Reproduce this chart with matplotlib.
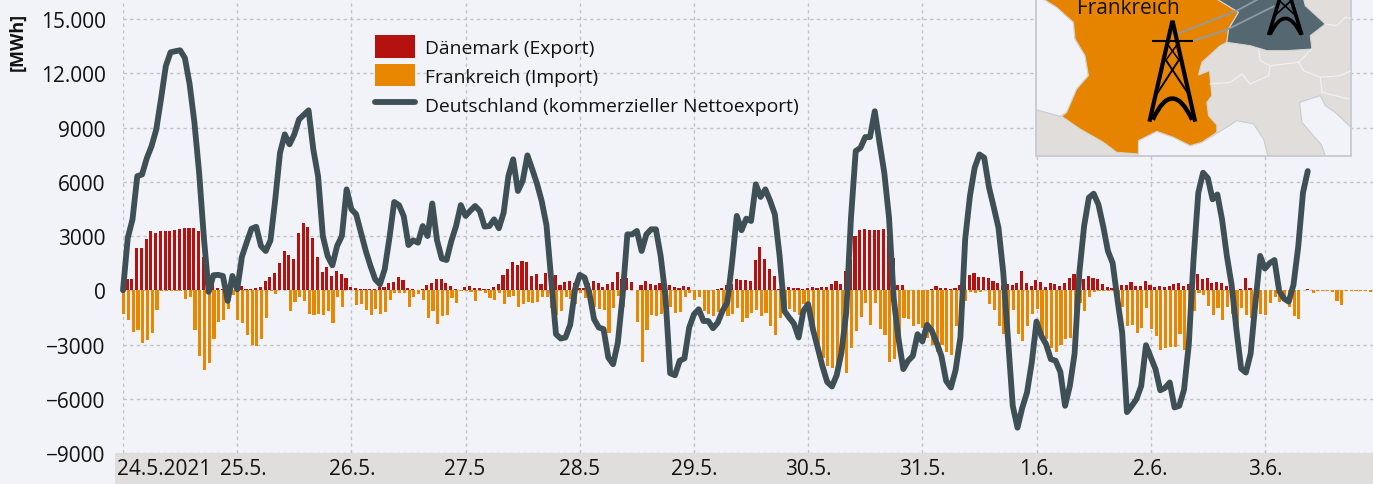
import numpy as np
import matplotlib
matplotlib.use("Agg")
import matplotlib.pyplot as plt
from matplotlib.patches import Polygon, Rectangle, PathPatch
from matplotlib.path import Path

plt.rcParams['font.family'] = ['Open Sans', 'DejaVu Sans']

W, H = 1373, 485

# hourly values in MWh, one row per day, from 24.5.2021
daenemark = [
    500, 600, 640, 2350, 2350, 2850, 3300, 3180, 3300, 3300, 3300, 3330, 3370, 3420, 3420, 3420, 3260, 1860, 600, 400, 150, 60, 60, 60,
    150, 240, 90, 90, 150, 170, 510, 740, 980, 1530, 2150, 1970, 1730, 3160, 3720, 3500, 2890, 1860, 1000, 1300, 810, 1090, 920, 680,
    170, 150, 60, 60, 60, 60, 200, 170, 420, 460, 750, 570, 150, 60, 40, 60, 290, 420, 630, 630, 420, 240, 90, 20,
    170, 240, 150, 150, 70, 70, 200, 330, 850, 1160, 1560, 1380, 1640, 1560, 790, 900, 370, 960, 850, 830, 310, 460, 530, 390,
    150, 130, 420, 520, 390, 170, 330, 440, 1010, 610, 660, 440, 40, 280, 500, 330, 290, 390, 330, 280, 200, 110, 240, 200,
    40, 40, 40, 40, 40, 90, 130, 290, 370, 610, 570, 570, 500, 1660, 2390, 1730, 1160, 810, 90, 30, 200, 150, 150, 90,
    150, 170, 150, 170, 170, 330, 520, 330, 1090, 1750, 3000, 3350, 3380, 3350, 3340, 3340, 3360, 3000, 1770, 280, 280, 40, 30, 30,
    30, 40, 90, 240, 150, 150, 90, 130, 310, 500, 860, 960, 740, 720, 700, 500, 390, 280, 330, 290, 420, 1050, 420, 240,
    590, 480, 200, 390, 370, 220, 420, 700, 880, 800, 610, 810, 700, 640, 370, 170, 150, 520, 290, 310, 480, 220, 220, 520,
    280, 200, 240, 180, 260, 350, 420, 220, 330, 620, 880, 640, 700, 420, 440, 390, 220, 50, 40, 50, 700, 150, 40, 30,
    30, 30, 40, 30, 30, 30, 30, 30, 40, 90, 10, 10, 10, 10, 10, 10, 10, 10, 10, 10, 10, 10, 10, 10,
]
frankreich = [
    -1300, -1640, -2300, -2190, -2940, -2740, -2340, -1070, -20, -20, -20, -20, -20, -460, -370, -2190, -3660, -4400, -4000, -2700, -1750, -1660, -1010, -260,
    -1660, -1800, -2470, -3040, -3060, -2720, -1530, -40, -200, -10, -10, -1160, -630, -350, -590, -1300, -1360, -1290, -1360, -1120, -1800, -350, -940, -10,
    -10, -810, -750, -1090, -1380, -1050, -1290, -1230, -550, -150, -150, -130, -940, -400, -200, -515, -1530, -1140, -1840, -1420, -1380, -440, -700, -20,
    -20, -90, -570, -50, -130, -440, -530, -130, -770, -370, -330, -920, -740, -660, -680, -630, -400, -390, -1000, -1380, -1140, -390, -500, -770,
    -130, -420, -500, -900, -1050, -1070, -2360, -980, -310, -940, -10, -10, -1750, -3940, -2210, -1380, -1420, -1290, -1000, -920, -1270, -1230, -400, -130,
    -515, -400, -1140, -1320, -1450, -1230, -1050, -1450, -1320, -1000, -1730, -1560, -1270, -1100, -1400, -1270, -2000, -2470, -1530, -1050, -1050, -1230, -1380, -770,
    -770, -2150, -3070, -3720, -4210, -4320, -4000, -3250, -4600, -3220, -2240, -1470, -720, -1900, -700, -2170, -2450, -3960, -3810, -2700, -1560, -1600, -2000, -1880,
    -2080, -2650, -3040, -3440, -3000, -3390, -3570, -1970, -1500, -590, -90, -170, -110, -10, -770, -1070, -1970, -2430, -2700, -1090, -2430, -2820, -1950, -1340,
    -1030, -2470, -2700, -3200, -3390, -3040, -2700, -2630, -2300, -680, -1140, -400, -70, -50, -50, -60, -50, -1200, -900, -2000, -1930, -2360, -2080, -980,
    -2140, -2520, -3290, -3200, -3130, -3130, -2410, -3330, -2300, -1140, -130, -280, -860, -1360, -980, -1620, -900, -1290, -2240, -1000, -1380, -1560, -980, -1320,
    -1380, -680, -400, -640, -500, -900, -1420, -1580, -10, -10, -130, -50, -30, -30, -110, -590, -810, -20, -20, -20, -20, -20, -90, -10,
]
deutschland = [
    0, 2900, 3920, 6310, 6400, 7300, 7970, 8900, 10600, 12400, 13160, 13220, 13270, 12850, 11400, 9300, 6500, 2900, -90, 830, 850, 790, -590, 790,
    50, 1860, 2650, 3400, 3510, 2450, 2170, 2760, 5030, 7600, 8620, 8070, 8620, 9450, 9700, 9950, 7790, 6300, 3000, 1900, 1380, 2450, 3000, 5580,
    4480, 4200, 3200, 2200, 1350, 610, 330, 1160, 2900, 4880, 4710, 4100, 2500, 2760, 2630, 3550, 3000, 4800, 2760, 1750, 1670, 2720, 3550, 4710,
    4110, 4400, 4660, 4380, 3520, 3550, 3920, 3430, 4290, 6310, 7240, 5490, 6040, 7460, 6700, 5900, 4930, 3600, 610, -2430, -2670, -2610, -1900, 50,
    850, 700, -130, -1600, -2060, -2150, -3720, -4090, -2900, -300, 3090, 3090, 3280, 2170, 3090, 3370, 3370, 1900, -310, -4590, -4700, -3900, -3770, -2060,
    -1330, -1050, -1700, -1700, -2100, -1790, -1140, -680, 1530, 4110, 3320, 3960, 3830, 5860, 5160, 5580, 4950, 4200, 1900, -1140, -1510, -1840, -2610, -1140,
    -770, -2150, -3170, -4200, -5070, -5320, -4700, -3440, -1230, 4000, 7700, 7880, 8470, 8470, 9900, 8160, 6500, 4000, -500, -2700, -4360, -3900, -3630, -2430,
    -2830, -1910, -2250, -2900, -3630, -5010, -5380, -4400, -2600, 2820, 5210, 6780, 7510, 7330, 5700, 4600, 3460, 1000, -2700, -6390, -7600, -6500, -5650, -3990,
    -1730, -2520, -2980, -3810, -3900, -4510, -6390, -5290, -3500, 980, 3550, 5120, 5340, 4750, 3550, 2170, 1500, -500, -2340, -6740, -6400, -6020, -5290, -3040,
    -3700, -4360, -5530, -5400, -5100, -6480, -6390, -5500, -3000, 1710, 5400, 6500, 6200, 5030, 5300, 3900, 1900, 300, -2150, -4330, -4550, -3500, -700, 1900,
    1200, 1500, 1670, -40, -460, -630, 300, 2400, 5400, 6590,
]

y_ticks = [-9000, -6000, -3000, 0, 3000, 6000, 9000, 12000, 15000]
y_labels = ['\u22129000', '\u22126000', '\u22123000', '0', '3000', '6000', '9000', '12.000', '15.000']
day_hours = [0, 24, 48, 72, 96, 120, 144, 168, 192, 216, 240]
day_labels = ['24.5.2021', '25.5.', '26.5.', '27.5', '28.5', '29.5.', '30.5.', '31.5.', '1.6.', '2.6.', '3.6.']
day_label_pos = [8.7, 25.2, 48.1, 71.9, 96, 120, 144, 168, 192, 215.8, 240]

BG = '#f1f3f8'
BAND = '#e0dedc'
GRID = '#c2c3c6'
RED = '#b5120f'
ORANGE = '#e98800'
SLATE = '#3f4f56'
INK = '#111111'

fig = plt.figure(figsize=(W / 100, H / 100), dpi=100, facecolor=BG)
fig.add_artist(Rectangle((115 / W, 0), (W - 115) / W, 31 / H, transform=fig.transFigure, color=BAND, lw=0, zorder=-1))

ax = fig.add_axes([123 / W, 31 / H, (W - 123) / W, 454 / H], facecolor='none')
hours_dk = np.arange(len(daenemark))
hours_fr = np.arange(len(frankreich))
hours_de = np.arange(len(deutschland))

dk_bars = ax.bar(hours_dk - 0.14, daenemark, width=0.66, color=RED, label='Dänemark (Export)', clip_on=False, zorder=2)
fr_bars = ax.bar(hours_fr + 0.14, frankreich, width=0.66, color=ORANGE, label='Frankreich (Import)', clip_on=False, zorder=2)
de_line, = ax.plot(hours_de, deutschland, color=SLATE, lw=4.2, solid_joinstyle='round', solid_capstyle='round',
                   label='Deutschland (kommerzieller Nettoexport)', clip_on=False, zorder=3)

ax.set_xlim(0, (W - 123) / 4.758)
ax.set_ylim(-9000, 291 * 55.35)
for s in ax.spines.values():
    s.set_visible(False)
ax.set_axisbelow(True)
ax.grid(True, color=GRID, lw=1.0, ls=(0, (2.4, 2.4)))
ax.set_yticks(y_ticks, y_labels, fontsize=15, color=INK)
ax.set_xticks(day_hours, [''] * len(day_hours))
ax.tick_params(axis='both', length=0)
ax.tick_params(axis='y', pad=12.5)
for pos, lab in zip(day_label_pos, day_labels):
    ax.text(pos, -15.5 / 454, lab, ha='center', va='center', fontsize=15, color=INK, clip_on=False,
            transform=ax.get_xaxis_transform())

fig.text(18 / W, 1 - 42 / H, '[MWh]', rotation=90, ha='center', va='center', fontsize=13, fontweight='bold', color=INK)

ax.legend(handles=[dk_bars, fr_bars, de_line], loc='upper left', bbox_to_anchor=(375 / W, 1 - 36 / H),
          bbox_transform=fig.transFigure, frameon=False, fontsize=13.9, labelcolor=INK,
          handlelength=40 / 19.3, handleheight=1.42, handletextpad=10 / 19.3, labelspacing=0.33,
          borderpad=0, borderaxespad=0)

# inset map, drawn in the coordinates of the zoomed sketch
map_ax = fig.add_axes([1036 / W, 1 - 157 / H, 315 / W, 157 / H], zorder=5)
map_ax.set_xlim(48, 992)
map_ax.set_ylim(471, 0)
map_ax.axis('off')

atlantic = [(48, 0), (70, 0), (110, 25), (160, 70), (165, 120), (195, 170), (205, 230), (170, 270), (140, 340), (120, 352), (48, 332)]
mediterranean = [(355, 471), (355, 425), (410, 397), (460, 415), (510, 440), (545, 430), (595, 400), (650, 365), (700, 375), (730, 420), (743, 471)]
adriatic = [(915, 471), (905, 440), (845, 370), (838, 310), (900, 290), (915, 320), (945, 340), (992, 385), (992, 471)]
france = [(70, 0), (110, 25), (160, 70), (165, 120), (195, 170), (205, 230), (170, 270), (140, 340), (125, 352), (180, 390), (250, 430),
          (290, 460), (355, 465), (355, 425), (410, 397), (460, 415), (510, 440), (545, 430), (590, 400), (590, 378), (565, 350), (560, 310),
          (575, 290), (568, 215), (535, 228), (545, 190), (600, 140), (620, 130), (625, 90), (655, 40), (590, 0)]
germany = [(590, 0), (655, 40), (625, 90), (620, 130), (690, 140), (740, 155), (800, 155), (875, 150), (870, 110), (915, 75), (855, 20), (850, 0)]
borders = [
    [(715, 150), (720, 185), (750, 200), (745, 230), (690, 255), (665, 225), (630, 250), (570, 255)],
    [(750, 200), (835, 190), (875, 150)],
    [(835, 190), (850, 215), (900, 235), (960, 230), (992, 215)],
    [(900, 235), (905, 280), (985, 300)],
    [(915, 75), (950, 80), (975, 55), (992, 58)],
]

map_ax.add_patch(Rectangle((48, 0), 944, 471, color='#e0dddb', lw=0))
for sea in (atlantic, mediterranean, adriatic):
    map_ax.add_patch(Polygon(sea, closed=True, facecolor=BG, edgecolor='#c9ccd0', lw=0.8))
map_ax.add_patch(Polygon(france, closed=True, facecolor='#e68400', edgecolor='#d5d5d5', lw=0.8))
map_ax.add_patch(Polygon(germany, closed=True, facecolor='#556770', edgecolor='#d5d5d5', lw=0.8))
for b in borders:
    xs, ys = zip(*b)
    map_ax.plot(xs, ys, color='#f0f0f0', lw=0.9)

# grey flow lines towards germany
for flow in ([(470, 105), (650, 35), (715, 0)], [(520, 125), (620, 92), (760, 22)]):
    xs, ys = zip(*flow)
    map_ax.plot(xs, ys, color='#8d9ca4', lw=1.3)


def tower(segments, arch, thick):
    for (x0, y0), (x1, y1), lw in segments:
        map_ax.plot([x0, x1], [y0, y1], color='black', lw=lw, solid_capstyle='butt')
    map_ax.add_patch(PathPatch(Path(arch, [Path.MOVETO, Path.CURVE3, Path.CURVE3]), fill=False, edgecolor='black', lw=thick))


tower([((457, 65), (388, 368), 3.0), ((457, 65), (525, 368), 3.0), ((395, 125), (518, 125), 1.5),
       ((438, 130), (478, 185), 1.1), ((476, 130), (436, 185), 1.1), ((435, 180), (505, 285), 1.4), ((478, 180), (410, 285), 1.4)],
      [(398, 362), (456, 235), (516, 362)], 3.2)
tower([((778, 0), (745, 108), 2.6), ((812, 0), (845, 108), 2.6), ((772, 0), (832, 55), 1.2), ((818, 0), (758, 55), 1.2)],
      [(750, 106), (795, 10), (842, 106)], 2.6)

map_ax.add_patch(Rectangle((48, 0), 944, 471, fill=False, edgecolor='#c9ccd0', lw=1.4, clip_on=False))
map_ax.text(325, 26, 'Frankreich', ha='center', va='center', fontsize=15, color=INK)

fig.savefig('out.png', dpi=100, facecolor=BG)
